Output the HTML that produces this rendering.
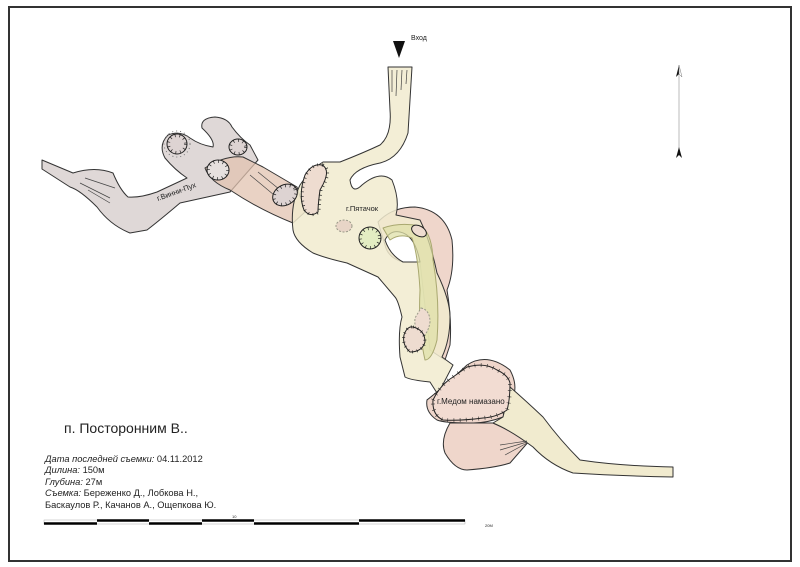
<!DOCTYPE html>
<html><head><meta charset="utf-8"><style>
html,body{margin:0;padding:0;background:#fff;}
svg{display:block;}
text{font-family:"Liberation Sans",sans-serif;fill:#222;}
</style></head><body>
<svg width="800" height="567" viewBox="0 0 800 567" xmlns="http://www.w3.org/2000/svg">
<rect x="9" y="7" width="782" height="554" fill="none" stroke="#333" stroke-width="2"/>
<g stroke="#333" stroke-width="1" stroke-linejoin="round">
<!-- grey Vinni-Pukh -->
<path d="M42,160 L73,173 Q95,166 113,173 Q120,190 128,197 Q140,198 157,192 L187,178 Q175,170 165,158 Q158,145 168,135 Q180,130 190,138 Q200,145 213,147 Q215,140 202,128 Q200,118 215,117 Q228,118 232,127 Q240,138 250,145 L258,160 L230,192 L180,203 Q160,220 147,230 L130,233 Q110,225 97,207 Q80,190 70,187 L42,169 Z" fill="#dcd4d3" fill-opacity="0.9"/>
<!-- brown -->
<path d="M205,168 Q225,155 243,157 L263,167 L297,187 L305,212 L293,223 Q260,210 230,190 Q210,182 205,168 Z" fill="#e2c3b0" fill-opacity="0.75"/>
<!-- pink loop (behind) -->
<path d="M378,222 Q392,207 415,207 Q445,210 452,240 Q455,270 447,290 Q452,320 450,345 L445,360 L430,350 L420,262 L403,262 Q388,258 385,245 Z" fill="#efd6cb"/>
<!-- yellow big -->
<path d="M388,67 L412,67 L408,133 Q400,158 380,163 Q355,168 350,180 Q352,195 362,185 Q380,170 392,180 Q400,200 396,215 L420,220 Q430,240 437,273 Q450,300 450,317 Q450,340 442,357 L453,365 L440,390 L427,400 L437,393 L430,382 Q410,380 405,377 L400,357 Q398,330 402,317 Q398,300 395,297 L378,277 L347,263 Q325,258 313,253 Q295,242 293,230 Q290,205 300,185 Q310,170 323,162 L340,162 Q363,153 380,145 Q392,135 390,110 Z" fill="#f1ebcf" fill-opacity="0.85"/>
<path d="M385,240 Q390,230 400,232 Q415,235 420,262 L403,262 Q390,255 385,240 Z" fill="#fff"/>
<!-- green passage -->
<path d="M383,228 Q400,222 420,226 Q432,232 433,260 Q440,300 437,340 Q432,360 425,360 Q418,330 420,290 Q418,255 412,238 Q400,233 390,240 Z" fill="#dfe0a8" fill-opacity="0.75" stroke="#a9a870"/>
<!-- Medom pink -->
<path d="M427,400 Q440,390 467,365 Q487,352 510,370 Q518,385 513,397 Q510,412 503,417 Q485,424 467,423 Q445,423 437,420 Q425,412 427,400 Z" fill="#efd6cb"/>
<!-- lower pink lobe -->
<path d="M450,423 Q440,440 445,453 Q455,470 467,470 Q495,468 510,463 L530,440 L493,423 Z" fill="#efd6cb"/>
<!-- tail -->
<path d="M510,387 Q525,400 543,417 Q560,440 580,460 Q620,466 673,467 L673,477 Q620,476 573,473 Q550,465 533,447 Q510,430 493,423 L503,417 Z" fill="#f1ebcf"/>
<!-- hatched Medom -->
<path d="M433,400 Q440,385 453,377 L467,367 Q485,362 497,370 Q508,375 510,383 Q510,400 507,410 Q497,417 483,418 Q460,421 443,420 Q432,415 433,400 Z" fill="#f2dcd2" stroke="#222"/>
<path d="M433,400 Q440,385 453,377 L467,367 Q485,362 497,370 Q508,375 510,383 Q510,400 507,410 Q497,417 483,418 Q460,421 443,420 Q432,415 433,400 Z" fill="none" stroke="#222" stroke-width="4" stroke-dasharray="0.7 5.5" opacity="0.8"/>
</g>
<g stroke="#444" stroke-width="0.7" fill="none">
<line x1="392" y1="70" x2="392" y2="92"/><line x1="397" y1="70" x2="396" y2="96"/><line x1="402" y1="70" x2="401" y2="90"/><line x1="407" y1="70" x2="406" y2="84"/>
<line x1="85" y1="178" x2="115" y2="188"/><line x1="80" y1="183" x2="110" y2="198"/><line x1="88" y1="190" x2="110" y2="203"/>
<line x1="250" y1="175" x2="280" y2="200"/><line x1="258" y1="172" x2="290" y2="198"/>
<line x1="500" y1="445" x2="527" y2="441"/><line x1="500" y1="450" x2="527" y2="442"/><line x1="505" y1="455" x2="527" y2="443"/>
</g>
<!-- hatched sections -->
<g stroke="#222" stroke-width="1">
<circle cx="177" cy="144" r="10" fill="#ddd3d2"/>
<circle cx="177" cy="144" r="8.5" fill="none" stroke-width="3" stroke-dasharray="0.7 4"/>
<circle cx="177" cy="144" r="13" fill="none" stroke-dasharray="1 3" stroke="#777"/>
<ellipse cx="238" cy="147" rx="9" ry="8" fill="#ddd3d2"/>
<ellipse cx="238" cy="147" rx="7.5" ry="6.5" fill="none" stroke-width="3" stroke-dasharray="0.7 4"/>
<ellipse cx="218" cy="170" rx="11" ry="10" fill="#e6e0de"/>
<ellipse cx="218" cy="170" rx="9.5" ry="8.5" fill="none" stroke-width="3" stroke-dasharray="0.7 4"/>
<ellipse cx="285" cy="195" rx="13" ry="10" fill="#ddd3d2" transform="rotate(-30 285 195)"/>
<ellipse cx="285" cy="195" rx="11.5" ry="8.5" fill="none" stroke-width="3" stroke-dasharray="0.7 4" transform="rotate(-30 285 195)"/>
<path d="M322,165 Q332,170 320,190 Q318,205 318,212 Q310,218 304,210 Q298,195 305,175 Q312,163 322,165 Z" fill="#eedcd0"/>
<path d="M322,165 Q332,170 320,190 Q318,205 318,212 Q310,218 304,210 Q298,195 305,175 Q312,163 322,165 Z" fill="none" stroke-width="3" stroke-dasharray="0.7 4" transform="translate(1,0)"/>
<ellipse cx="344" cy="226" rx="8" ry="6" fill="#e8d5c7" stroke-dasharray="2 1.5" stroke="#998"/>
<circle cx="370" cy="238" r="11" fill="#e3edc2"/>
<circle cx="370" cy="238" r="9.5" fill="none" stroke-width="3" stroke-dasharray="0.7 4"/>
<ellipse cx="419" cy="231" rx="8" ry="5" fill="#eedcd0" transform="rotate(30 419 231)"/>
<path d="M421,308 Q430,310 430,322 Q428,335 420,338 Q414,330 415,318 Z" fill="#eedcd0" stroke="#998" stroke-dasharray="2 1.5"/>
<path d="M413,327 Q425,330 425,342 Q422,352 410,352 Q402,345 404,335 Q407,326 413,327 Z" fill="#eedcd0"/>
<path d="M413,327 Q425,330 425,342 Q422,352 410,352 Q402,345 404,335 Q407,326 413,327 Z" fill="none" stroke-width="3" stroke-dasharray="0.7 4"/>
</g>
<!-- entrance -->
<polygon points="393,41 405,41 399,58" fill="#111"/>
<text x="411" y="40" font-size="7">Вход</text>
<!-- north -->
<line x1="679" y1="68" x2="679" y2="155" stroke="#bbb" stroke-width="1"/>
<polygon points="679,65 676,77 679,74" fill="#111"/>
<polygon points="679,65 682,77 679,74" fill="#fff" stroke="#777" stroke-width="0.5"/>
<polygon points="679,147 676,158 679,155 682,158" fill="#111"/>
<!-- labels -->
<text x="158" y="201" font-size="7.5" transform="rotate(-20 158 201)">г.Винни-Пух</text>
<text x="346" y="211" font-size="7.5">г.Пятачок</text>
<text x="437" y="404" font-size="8">г.Медом намазано</text>
<!-- info -->
<text x="64" y="433" font-size="14">п. Посторонним В..</text>
<g font-size="9.3">
<text x="45" y="462"><tspan font-style="italic">Дата последней съемки:</tspan> 04.11.2012</text>
<text x="45" y="473"><tspan font-style="italic">Дилина:</tspan> 150м</text>
<text x="45" y="485"><tspan font-style="italic">Глубина:</tspan> 27м</text>
<text x="45" y="496"><tspan font-style="italic">Съемка:</tspan> Береженко Д., Лобкова Н.,</text>
<text x="45" y="508">Баскаулов Р., Качанов А., Ощепкова Ю.</text>
</g>
<!-- scale -->
<g stroke="#000">
<rect x="44" y="520" width="421" height="4" fill="#fff" stroke-width="0.4" stroke="#999"/>
<line x1="44" y1="523.5" x2="97" y2="523.5" stroke-width="2.5"/>
<line x1="97" y1="520.5" x2="149" y2="520.5" stroke-width="2.5"/>
<line x1="149" y1="523.5" x2="202" y2="523.5" stroke-width="2.5"/>
<line x1="202" y1="520.5" x2="254" y2="520.5" stroke-width="2.5"/>
<line x1="254" y1="523.5" x2="359" y2="523.5" stroke-width="2.5"/>
<line x1="359" y1="520.5" x2="465" y2="520.5" stroke-width="2.5"/>
</g>
<text x="232" y="518" font-size="4">10</text>
<text x="485" y="527" font-size="4">20M</text>
</svg>
</body></html>
